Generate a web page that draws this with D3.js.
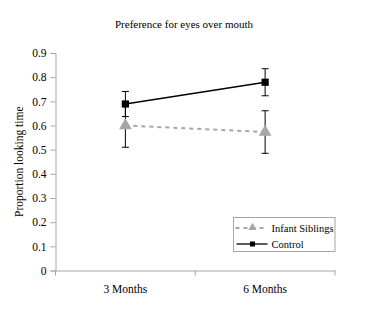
<!DOCTYPE html>
<html>
<head>
<meta charset="utf-8">
<script src="https://cdn.jsdelivr.net/npm/d3@7"></script>
<style>
  body { margin: 0; background: #fff; }
  svg { display: block; font-family: "Liberation Serif", "Times New Roman", serif; }
</style>
</head>
<body>
<svg id="chart"></svg>
<script>
const categories = ['3 Months', '6 Months'];
const siblingsMean = [0.60, 0.573];
const siblingsErr = [0.09, 0.088];
const controlMean = [0.689, 0.779];
const controlErr = [0.052, 0.056];
const yTicks = [0, 0.1, 0.2, 0.3, 0.4, 0.5, 0.6, 0.7, 0.8, 0.9];

const W = 367, H = 312;
const margin = { top: 53, right: 32, bottom: 41.5, left: 55.5 };
const width = W - margin.left - margin.right;
const height = H - margin.top - margin.bottom;

const svg = d3.select('#chart').attr('width', W).attr('height', H);
const g = svg.append('g').attr('transform', `translate(${margin.left},${margin.top})`);

// Title
svg.append('text')
    .attr('x', 184).attr('y', 28)
    .attr('text-anchor', 'middle')
    .attr('font-size', '11px').attr('fill', '#000')
    .text('Preference for eyes over mouth');

const x = d3.scaleBand().domain(categories).range([0, width]);
const y = d3.scaleLinear().domain([0, 0.9]).range([height, 0]);

// Axes
const yAxis = g.append('g')
    .call(d3.axisLeft(y).tickValues(yTicks).tickSize(5).tickPadding(4)
        .tickFormat(d => d === 0 ? '0' : d3.format('.1f')(d)));
yAxis.attr('font-family', null);
yAxis.selectAll('line, path').attr('stroke', '#a6a6a6');
yAxis.selectAll('text').attr('font-size', '11.5px').attr('fill', '#000');

const xAxis = g.append('g').attr('transform', `translate(0,${height})`)
    .call(d3.axisBottom(x).tickSize(0).tickPadding(14));
xAxis.attr('font-family', null);
xAxis.select('.domain').attr('stroke', '#a6a6a6');
xAxis.selectAll('text').attr('font-size', '11.5px').attr('fill', '#000');
// category separators
[0, width / 2, width].forEach(px => {
    xAxis.append('line').attr('x1', px).attr('x2', px).attr('y1', 0).attr('y2', 5)
        .attr('stroke', '#a6a6a6');
});

// Y label
svg.append('text')
    .attr('transform', 'rotate(-90)')
    .attr('x', -(margin.top + height / 2)).attr('y', 23)
    .attr('text-anchor', 'middle')
    .attr('font-size', '11.5px').attr('fill', '#000')
    .text('Proportion looking time');

const cx = d => x(d) + x.bandwidth() / 2;
const line = d3.line().x(d => cx(d.cat)).y(d => y(d.v));

const sib = categories.map((c, i) => ({ cat: c, v: siblingsMean[i], e: siblingsErr[i] }));
const ctl = categories.map((c, i) => ({ cat: c, v: controlMean[i], e: controlErr[i] }));

// Error bars
function errorBars(data) {
    data.forEach(d => {
        const px = cx(d.cat);
        g.append('line').attr('x1', px).attr('x2', px)
            .attr('y1', y(d.v + d.e)).attr('y2', y(d.v - d.e))
            .attr('stroke', '#000').attr('stroke-width', 1);
        [d.v + d.e, d.v - d.e].forEach(v => {
            g.append('line').attr('x1', px - 3.5).attr('x2', px + 3.5)
                .attr('y1', y(v)).attr('y2', y(v))
                .attr('stroke', '#000').attr('stroke-width', 1);
        });
    });
}
errorBars(sib);
errorBars(ctl);

// Lines
g.append('path').datum(sib).attr('d', line)
    .attr('fill', 'none').attr('stroke', '#a6a6a6').attr('stroke-width', 2)
    .attr('stroke-dasharray', '4,4');
g.append('path').datum(ctl).attr('d', line)
    .attr('fill', 'none').attr('stroke', '#000').attr('stroke-width', 1.3);

const tri = d3.symbol().type(d3.symbolTriangle).size(70);
const sq = d3.symbol().type(d3.symbolSquare).size(52);

g.selectAll('.tri').data(sib).enter().append('path')
    .attr('transform', d => `translate(${cx(d.cat)},${y(d.v)})`)
    .attr('d', tri).attr('fill', '#a6a6a6');
g.selectAll('.sq').data(ctl).enter().append('path')
    .attr('transform', d => `translate(${cx(d.cat)},${y(d.v)})`)
    .attr('d', sq).attr('fill', '#000');

// Legend
const lg = svg.append('g').attr('transform', 'translate(233.5,217.5)');
lg.append('rect').attr('width', 101.5).attr('height', 34)
    .attr('fill', '#fff').attr('stroke', '#a6a6a6');
lg.append('line').attr('x1', 2).attr('x2', 34).attr('y1', 10.5).attr('y2', 10.5)
    .attr('stroke', '#a6a6a6').attr('stroke-width', 2).attr('stroke-dasharray', '4,4');
lg.append('path').attr('transform', 'translate(19,10)').attr('d', d3.symbol().type(d3.symbolTriangle).size(30))
    .attr('fill', '#a6a6a6');
lg.append('text').attr('x', 38).attr('y', 14.5).attr('font-size', '10.5px').text('Infant Siblings');
lg.append('line').attr('x1', 3).attr('x2', 34).attr('y1', 26.5).attr('y2', 26.5)
    .attr('stroke', '#000').attr('stroke-width', 1.3);
lg.append('path').attr('transform', 'translate(19,26.5)').attr('d', d3.symbol().type(d3.symbolSquare).size(25))
    .attr('fill', '#000');
lg.append('text').attr('x', 38).attr('y', 30.5).attr('font-size', '10.5px').text('Control');
</script>
</body>
</html>
